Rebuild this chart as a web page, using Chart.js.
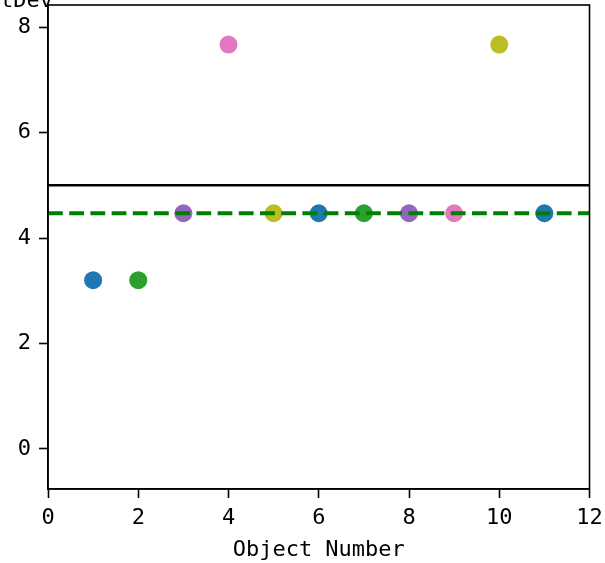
<!DOCTYPE html>
<html>
<head>
<meta charset="utf-8">
<script src="https://cdn.jsdelivr.net/npm/chart.js@4.4.1/dist/chart.umd.min.js"></script>
<style>
  html, body { margin: 0; padding: 0; background: #fff; }
  #wrap { width: 605px; height: 563px; position: relative; }
</style>
</head>
<body>
<div id="wrap"><canvas id="c" width="605" height="563"></canvas></div>
<script>
// ---- data ----
const objectNumbers = [1, 2, 3, 4, 5, 6, 7, 8, 9, 10, 11];
const stdDevValues = [3.2, 3.2, 4.47, 7.67, 4.47, 4.47, 4.47, 4.47, 4.47, 7.67, 4.47];
const pointColors = ['#1f77b4', '#2ca02c', '#9467bd', '#e377c2', '#bcbd22',
                     '#1f77b4', '#2ca02c', '#9467bd', '#e377c2', '#bcbd22', '#1f77b4'];
const limitLine = 5;
const meanLine = 4.47;
const xTicks = [0, 2, 4, 6, 8, 10, 12];
const yTicks = [0, 2, 4, 6, 8];
const xRange = [0, 12];
const yRange = [-0.76, 8.42];
const xTitle = 'Object Number';
const yTitle = 'StDev';

const FONT = '"DejaVu Sans Mono", "Liberation Mono", monospace';
const FSIZE = 22;

const frame = {
  id: 'frame',
  afterDraw(chart) {
    const { ctx, chartArea: a } = chart;
    ctx.save();
    ctx.strokeStyle = '#000';
    ctx.lineWidth = 1.6;
    ctx.strokeRect(a.left, a.top, a.right - a.left, a.bottom - a.top);
    ctx.fillStyle = '#000';
    ctx.font = FSIZE + 'px ' + FONT;
    ctx.textAlign = 'right';
    ctx.textBaseline = 'alphabetic';
    ctx.fillText(yTitle, 53, 7);
    ctx.restore();
  }
};

const noPad = s => { s.paddingTop = 0; s.paddingBottom = 0; s.paddingLeft = 0; s.paddingRight = 0; };

new Chart(document.getElementById('c'), {
  type: 'scatter',
  data: {
    datasets: [
      {
        type: 'line',
        data: [{ x: xRange[0], y: meanLine }, { x: xRange[1], y: meanLine }],
        borderColor: '#008000',
        borderWidth: 4,
        borderDash: [14.8, 6.4],
        pointRadius: 0,
        fill: false
      },
      {
        type: 'line',
        data: [{ x: xRange[0], y: limitLine }, { x: xRange[1], y: limitLine }],
        borderColor: '#000',
        borderWidth: 2.5,
        pointRadius: 0,
        fill: false
      },
      {
        data: objectNumbers.map((x, i) => ({ x, y: stdDevValues[i] })),
        backgroundColor: pointColors,
        borderWidth: 0,
        pointRadius: 9,
        pointHoverRadius: 9
      }
    ]
  },
  options: {
    responsive: false,
    animation: false,
    devicePixelRatio: 1,
    layout: { autoPadding: false, padding: { left: 0, right: 15.5, top: 5, bottom: 0 } },
    plugins: { legend: { display: false }, tooltip: { enabled: false } },
    scales: {
      x: {
        type: 'linear',
        min: xRange[0],
        max: xRange[1],
        afterBuildTicks: s => { s.ticks = xTicks.map(v => ({ value: v })); },
        afterFit: s => { s.height = 74; noPad(s); },
        grid: { display: true, drawOnChartArea: false, drawTicks: true, tickLength: 9, tickWidth: 1.6, tickColor: '#000' },
        border: { display: true, color: '#000', width: 1.6 },
        ticks: { color: '#000', padding: 7, font: { family: FONT, size: FSIZE }, maxRotation: 0, autoSkip: false },
        title: { display: true, text: xTitle, color: '#000', font: { family: FONT, size: FSIZE }, padding: { top: 0, bottom: 0 } }
      },
      y: {
        type: 'linear',
        min: yRange[0],
        max: yRange[1],
        afterBuildTicks: s => { s.ticks = yTicks.map(v => ({ value: v })); },
        afterFit: s => { s.width = 48; noPad(s); },
        grid: { display: true, drawOnChartArea: false, drawTicks: true, tickLength: 9, tickWidth: 1.6, tickColor: '#000' },
        border: { display: true, color: '#000', width: 1.6 },
        ticks: { color: '#000', padding: 8, font: { family: FONT, size: FSIZE }, autoSkip: false }
      }
    }
  },
  plugins: [frame]
});
</script>
</body>
</html>
